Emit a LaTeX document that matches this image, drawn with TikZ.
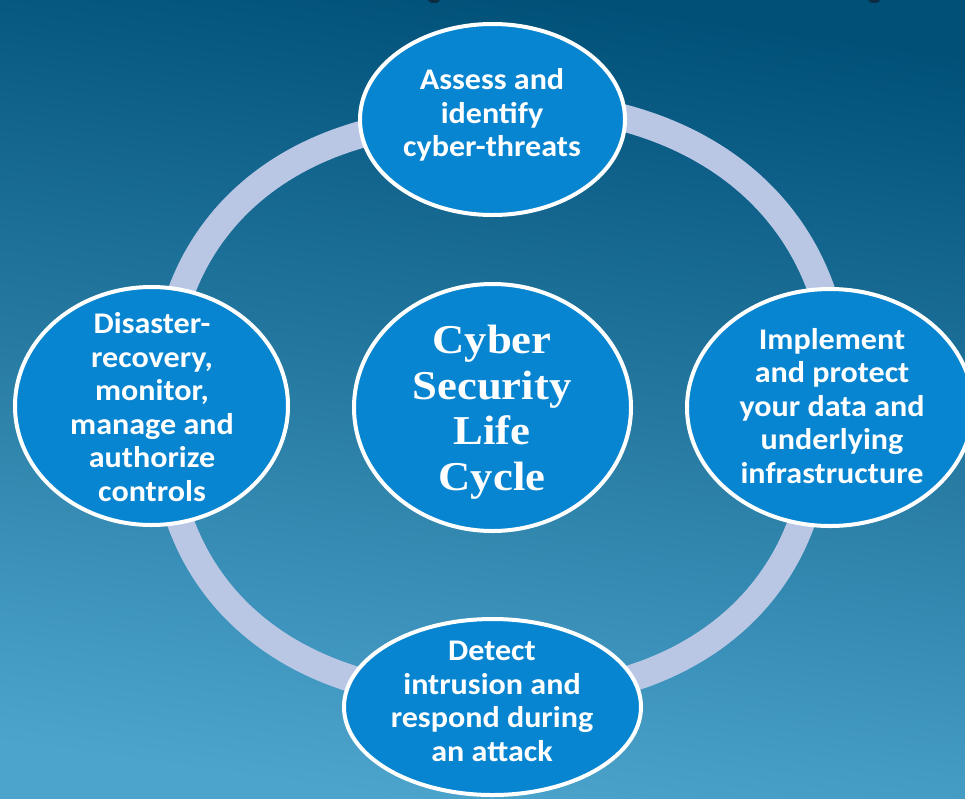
\documentclass[tikz,border=0pt]{standalone}
\usepackage{fontspec}
\setmainfont{Carlito}[FakeStretch=1.07]
\newfontfamily\centerserif{Liberation Serif}[FakeStretch=1.09]
\usetikzlibrary{shapes.geometric}
\definecolor{bgtop}{RGB}{0,80,120}
\definecolor{bgmid}{RGB}{28,108,148}
\definecolor{bgbot}{RGB}{76,164,204}
\definecolor{ringc}{RGB}{185,199,229}
\definecolor{fillb}{RGB}{8,133,208}
\definecolor{blobc}{RGB}{12,45,65}
\tikzset{
  ell/.style={ellipse, draw=white, line width=4pt, fill=fillb, inner sep=0pt},
  txt/.style={text=white, font=\bfseries\fontsize{30}{33.5}\selectfont, align=center, inner sep=0pt},
  ctxt/.style={text=white, font=\centerserif\bfseries\fontsize{41}{45.5}\selectfont, align=center, inner sep=0pt},
  ringline/.style={ringc, line width=27pt}
}
\begin{document}
\begin{tikzpicture}[x=1pt,y=-1pt]
\useasboundingbox (0,0) rectangle (965,798);
\shade[top color=bgtop, middle color=bgmid, bottom color=bgbot, shading angle=-8] (0,0) rectangle (965,798);
\fill[blobc] (434,0) ellipse (6 and 3);
\fill[blobc] (874,0) ellipse (6 and 3);
% ring: four superellipse quadrants, ends hidden under the ellipses
\draw[ringline] plot[domain=0.5:89.5, samples=60] ({491+348*pow(cos(\x),0.87)}, {408-305*pow(sin(\x),0.87)});
\draw[ringline] plot[domain=0.5:89.5, samples=60] ({491-328*pow(cos(\x),0.87)}, {408-289*pow(sin(\x),0.87)});
\draw[ringline] plot[domain=0.5:89.5, samples=60] ({491-328*pow(cos(\x),0.87)}, {408+289*pow(sin(\x),0.87)});
\draw[ringline] plot[domain=0.5:89.5, samples=60] ({491+328*pow(cos(\x),0.87)}, {408+289*pow(sin(\x),0.87)});
\node[ell, minimum width=265pt, minimum height=191pt] (top) at (492.5,119.5) {};
\node[ell, minimum width=286pt, minimum height=237pt] (right) at (830,407.5) {};
\node[ell, minimum width=273pt, minimum height=238pt] (left) at (151.5,406) {};
\node[ell, minimum width=297pt, minimum height=176pt] (bottom) at (492.5,707) {};
\node[ell, minimum width=277pt, minimum height=247pt] (center) at (492.5,407.5) {};
\node[txt] (ttop) at (492,115) {Assess and\\identify\\cyber-threats};
\node[txt] (tright) at (832,406) {Implement\\and protect\\your data and\\underlying\\infrastructure};
\node[txt] (tleft) at (152,407) {Disaster-\\recovery,\\monitor,\\manage and\\authorize\\controls};
\node[txt] (tbottom) at (492,701.5) {Detect\\intrusion and\\respond during\\an attack};
\node[ctxt] (tcenter) at (492,412) {Cyber\\Security\\Life\\Cycle};
\end{tikzpicture}
\end{document}
